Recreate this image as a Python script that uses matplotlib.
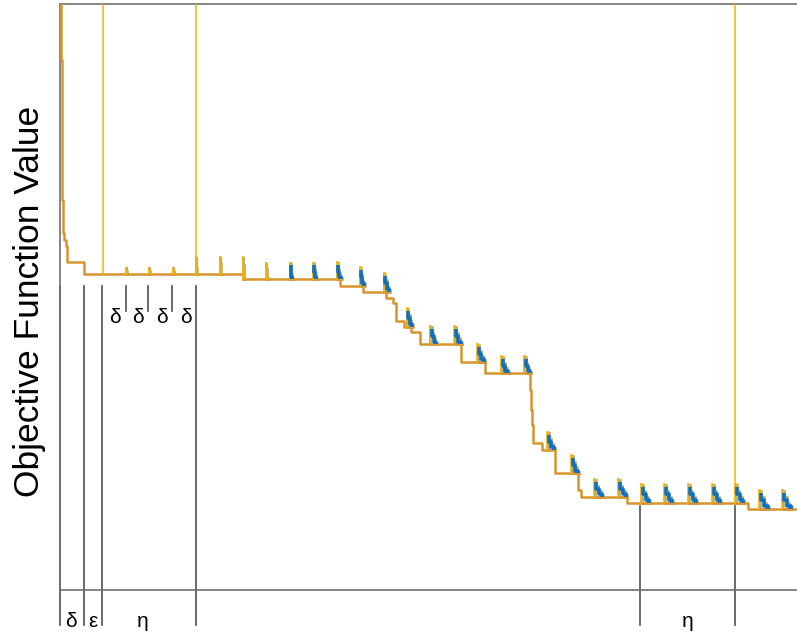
import numpy as np
import matplotlib
matplotlib.use("Agg")
import matplotlib.pyplot as plt

plt.rcParams['font.family'] = ['Liberation Sans', 'DejaVu Sans']

# best objective value so far (step curve, value holds from x onwards)
best_x = [1, 1.5, 2, 2.5, 3, 4, 6, 7.5, 24, 183, 280.5, 303, 326, 333, 335.7, 344, 351,
          360, 401, 425, 470, 471, 472, 473, 481.7, 495, 518, 521.5, 566.7, 688.3, 737]
best_y = [586, 530, 460, 390, 357, 350, 344, 328, 316.5, 310.7, 304.5, 298.3, 292.5, 287.3,
          269.3, 263.5, 257.8, 245.7, 228.3, 216.7, 200, 180, 165, 146.7, 140.5, 116.7, 100,
          93.3, 87.3, 81, 81]

# restarts: position, peak value, width of the decay
restart_x = [66, 89, 113, 136, 160, 183, 206, 230, 253, 277, 300, 324, 347, 370, 394, 417,
             441, 464, 487, 511, 534, 558, 581, 604, 628, 652, 675, 699, 722]
restart_top = [323, 323, 323, 334, 334, 334, 328, 328, 328, 328, 323, 317, 282, 264, 264, 246,
               234, 234, 158, 135, 111, 111, 106, 106, 106, 106, 106, 100, 100]
restart_w = [1, 1, 1, 1, 1.5, 1.5, 2, 3, 4, 5, 5, 6, 6, 8, 9, 9, 9, 8, 9, 9, 10, 10, 10, 10,
             10, 10, 10, 11, 11]

# full restarts (vertical jumps to the initial value)
reset_x = [43, 136, 675]

# phase markers below the curve
phase_long = [0, 24, 42.5, 136]
phase_short = [66, 88, 112]
phase_late = [580.5, 675]
phase_labels = [(11, 'δ'), (33, 'ε'), (83, 'η'), (628, 'η')]
delta_labels = [55, 78, 102, 126]

c_main = '#d6952c'
c_yellow = '#f2b20c'
c_olive = '#b5ab6e'
c_blue = '#1070c0'
c_red = '#e0522c'
c_pink = '#f2a58a'

# decay profiles of a restart (fraction of width, fraction of height)
prof_yellow = [(0, 0), (0, 1), (0.12, 1), (0.12, 0.7), (0.3, 0.7), (0.3, 0.4),
               (0.55, 0.4), (0.55, 0.15), (0.8, 0.15), (0.8, 0)]
prof_olive = [(0.06, 0), (0.06, 0.95), (0.2, 0.95), (0.2, 0.62), (0.42, 0.62), (0.42, 0.32),
              (0.68, 0.32), (0.68, 0.08), (0.92, 0.08), (0.92, 0)]
prof_blue = [(0.22, 0.82), (0.22, 0.45), (0.5, 0.45), (0.5, 0.15), (0.78, 0.15), (0.78, 0)]


def best_at(x):
    i = np.searchsorted(best_x, x, side='right') - 1
    return best_y[max(i, 0)]


fig = plt.figure(figsize=(7.97, 6.37), dpi=100)
ax = fig.add_axes([60 / 797, 47 / 637, 737 / 797, 586 / 637])

for x0, top, w in zip(restart_x, restart_top, restart_w):
    base = best_at(x0)
    h = top - base
    for prof, col, lw, z in [(prof_olive, c_olive, 1.9, 3), (prof_yellow, c_yellow, 1.2, 4)]:
        px = [x0 + f * w for f, _ in prof]
        py = [base + g * h for _, g in prof]
        ax.plot(px, py, color=col, lw=lw, zorder=z, solid_joinstyle='miter')
    if w >= 3:
        px = [x0 + f * w for f, _ in prof_blue]
        py = [base + g * h for _, g in prof_blue]
        ax.plot(px, py, color=c_blue, lw=2.6, zorder=5, solid_capstyle='butt')
        ax.plot([x0 + 0.1 * w, x0 + w], [base - 0.8, base - 0.8], color=c_pink, lw=1.5, zorder=2)
        ax.plot([x0 + 0.5 * w, x0 + 0.9 * w], [base, base], color=c_red, lw=1.2, zorder=2.5)

ax.step(best_x, best_y, where='post', color=c_main, lw=1.8, zorder=3.5)

for x in reset_x:
    ax.plot([x, x], [best_at(x), 586], color=c_yellow, lw=1.1, zorder=4)

for x in phase_long:
    ax.plot([x, x], [304, -35], color='#505050', lw=1.2, clip_on=False)
for x in phase_short:
    ax.plot([x, x], [304, 279], color='#505050', lw=1.2, clip_on=False)
for x in phase_late:
    ax.plot([x, x], [84, -35], color='#505050', lw=1.2, clip_on=False)

for x, s in phase_labels:
    ax.text(x, -37, s, ha='center', va='baseline', fontsize=15, clip_on=False)
for x in delta_labels:
    ax.text(x, 267, 'δ', ha='center', va='baseline', fontsize=15)

ax.set_xlim(0, 737)
ax.set_ylim(0, 586)
ax.set_xticks([])
ax.set_yticks([])
ax.spines['right'].set_visible(False)
for s in ['top', 'left', 'bottom']:
    ax.spines[s].set_color('#707070')
    ax.spines[s].set_linewidth(1.2)

fig.text(30 / 797, 1 - 301 / 637, 'Objective Function Value', rotation=90,
         ha='center', va='center', fontsize=25.5)

fig.savefig('out.png', dpi=100)
